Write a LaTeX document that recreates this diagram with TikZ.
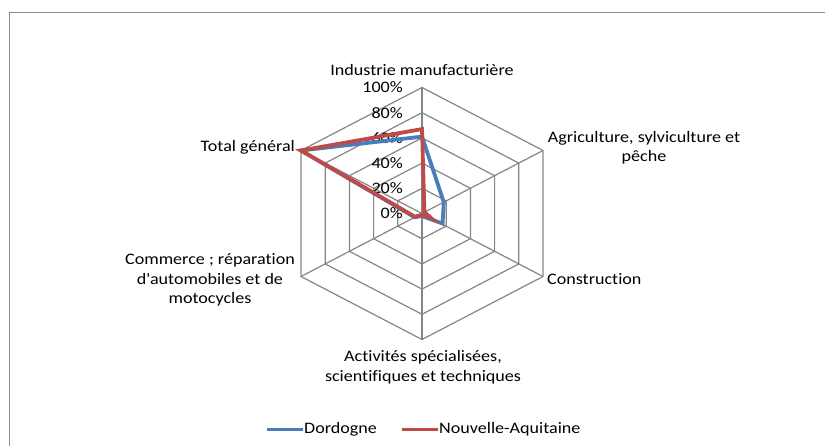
\documentclass[tikz,border=0pt]{standalone}
\usepackage{fontspec}
\setmainfont{Carlito}[FakeStretch=1.13,Ligatures=NoCommon]
\definecolor{gridgray}{RGB}{134,134,134}
\definecolor{frameg}{RGB}{140,140,140}
\definecolor{dblue}{RGB}{74,126,187}
\definecolor{dred}{RGB}{190,75,72}
\tikzset{
  gridline/.style={draw=gridgray, line width=1.2pt},
  series/.style={line width=3.8pt},
  lbl/.style={inner sep=1pt, font=\fontsize{16}{19.5}\selectfont, text=black},
  tick/.style={lbl, anchor=east},
  framel/.style={draw=frameg, line width=1.4pt}
}
\begin{document}
\begin{tikzpicture}[x=1pt,y=-1pt]
\useasboundingbox (0,0) rectangle (825,446);
\fill[white] (0,0) rectangle (825,446);
% outer frame
\coordinate (fbl) at (9.5,447);
\coordinate (ftl) at (9.5,12.5);
\coordinate (ftr) at (826,12.5);
\draw[framel] (fbl) -- (ftl) -- (ftr);
\begin{scope}[shift={(422,213.5)}]
  \coordinate (c) at (0,0);
  % axis tips
  \coordinate (a1) at (0,-126);
  \coordinate (a2) at (121,-63);
  \coordinate (a3) at (121,63);
  \coordinate (a4) at (0,126);
  \coordinate (a5) at (-121,63);
  \coordinate (a6) at (-121,-63);
  % grid hexagons
  \foreach \r in {0.2,0.4,0.6,0.8,1.0}{
    \draw[gridline] (0,-\r*126) -- (\r*121,-\r*63) -- (\r*121,\r*63) -- (0,\r*126)
      -- (-\r*121,\r*63) -- (-\r*121,-\r*63) -- cycle;
  }
  \foreach \i in {1,...,6}{ \draw[gridline] (c) -- (a\i); }
  % tick labels
  \foreach \v/\t in {0/0\%,0.2/20\%,0.4/40\%,0.6/60\%,0.8/80\%,1.0/100\%}{
    \node[tick] (t\v) at (-18,-\v*126) {\t};
  }
  % Dordogne data
  \coordinate (b1) at (0,-0.61*126);
  \coordinate (b2) at (0.18*121,-0.18*63);
  \coordinate (b3) at (0.17*121,0.16*63);
  \coordinate (b4) at (0,0.02*126);
  \coordinate (b5) at (-0.06*121,0.06*63);
  \coordinate (b6) at (-121,-63);
  \draw[series, draw=dblue] (b1) -- (b2) -- (b3) -- (b4) -- (b5) -- (b6) -- cycle;
  % Nouvelle-Aquitaine data
  \coordinate (r1) at (0,-0.67*126);
  \coordinate (r2) at (0.02*121,-0.02*63);
  \coordinate (r3) at (0.08*121,0.08*63);
  \coordinate (r4) at (0,0.01*126);
  \coordinate (r5) at (-0.06*121,0.05*63);
  \coordinate (r6) at (-121,-63);
  \draw[series, draw=dred] (r1) -- (r2) -- (r3) -- (r4) -- (r5) -- (r6) -- cycle;
\end{scope}
% category labels
\node[lbl] (ind) at (422,70) {Industrie manufacturière};
\node[lbl, align=center] (agr) at (644,147.5) {Agriculture, sylviculture et\\pêche};
\node[lbl, anchor=west] (con) at (546,279) {Construction};
\node[lbl, align=center] (act) at (423,367) {Activités spécialisées,\\scientifiques et techniques};
\node[lbl, align=center] (com) at (210,280) {Commerce ; réparation\\d\textquotesingle automobiles et de\\motocycles};
\node[lbl, anchor=east] (tot) at (296,147) {Total général};
% legend
\coordinate (lb1) at (266.5,429.5);
\coordinate (lb2) at (303,429.5);
\coordinate (lr1) at (401.5,429.5);
\coordinate (lr2) at (438,429.5);
\draw[series, draw=dblue] (lb1) -- (lb2);
\draw[series, draw=dred] (lr1) -- (lr2);
\node[lbl, anchor=west] (ldor) at (lb2) {Dordogne};
\node[lbl, anchor=west] (lna) at (lr2) {Nouvelle-Aquitaine};
\end{tikzpicture}
\end{document}
